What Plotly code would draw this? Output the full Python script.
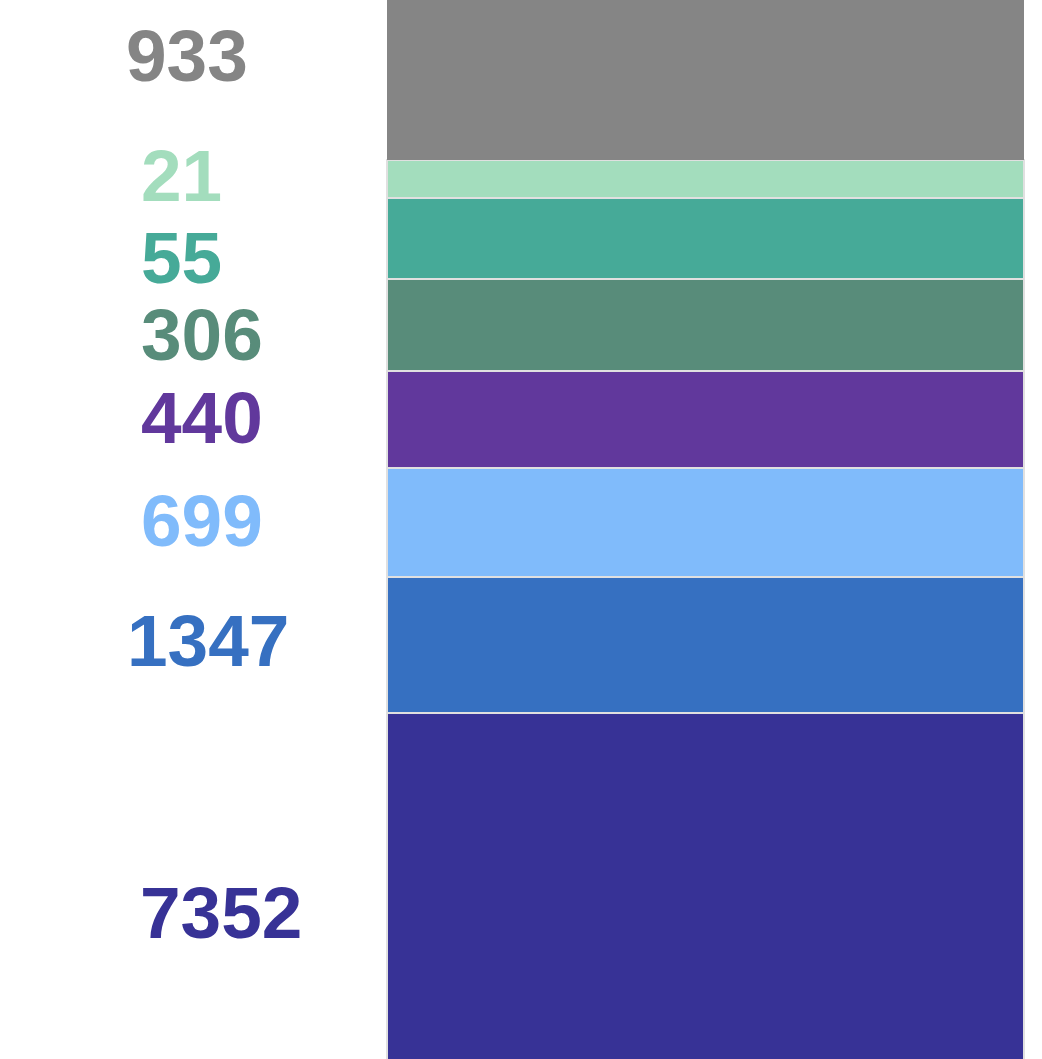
import plotly.graph_objects as go

# ---- data (bottom to top of the stack) ----
categories = ["7352", "1347", "699", "440", "306", "55", "21", "933"]
label_values = [7352, 1347, 699, 440, 306, 55, 21, 933]
segment_sizes = [352.5, 135.3, 108.9, 97.3, 92.5, 81.0, 37.5, 170.0]
colors = ["#373296", "#3670c1", "#80bbfb", "#61389c", "#588c7a", "#46aa98", "#a3ddbd", "#858585"]

# ---- label placement (layout only) ----
label_left_px = [138, 125, 139, 139, 139, 139, 139, 124]
label_center_px = [912, 640, 520, 417, 334, 257, 175, 55]

W, H = 1042, 1059
Y0, Y1 = 6, 1065
bar_left, bar_right = 387.0, 1023.5
ppu = bar_right - bar_left
xc = (bar_left + bar_right) / 2
x_range = [-xc / ppu, (W - xc) / ppu]

fig = go.Figure()
for name, size, col in zip(categories, segment_sizes, colors):
    is_gray = col == "#858585"
    fig.add_trace(go.Bar(
        x=[0], y=[size], width=1, name=name,
        marker=dict(color=col,
                    line=dict(color="#e0e0e0", width=0 if is_gray else 2)),
        hoverinfo="skip", showlegend=False,
    ))

for val, col, lx, cy in zip(label_values, colors, label_left_px, label_center_px):
    fig.add_annotation(
        x=lx / W, xref="paper", xanchor="left",
        y=Y1 - cy, yref="y", yanchor="middle",
        text=str(val), showarrow=False,
        font=dict(family="Liberation Sans, Arial, sans-serif", size=73,
                  color=col, weight="bold"),
    )

fig.update_layout(
    barmode="stack", width=W, height=H,
    margin=dict(l=0, r=0, t=0, b=0),
    paper_bgcolor="white", plot_bgcolor="white",
    xaxis=dict(range=x_range, visible=False, fixedrange=True),
    yaxis=dict(range=[Y0, Y1], visible=False, fixedrange=True),
)

fig.write_html("out.html", config={"displayModeBar": False},
               post_script="document.body.style.margin='0';document.body.style.overflow='hidden';")
